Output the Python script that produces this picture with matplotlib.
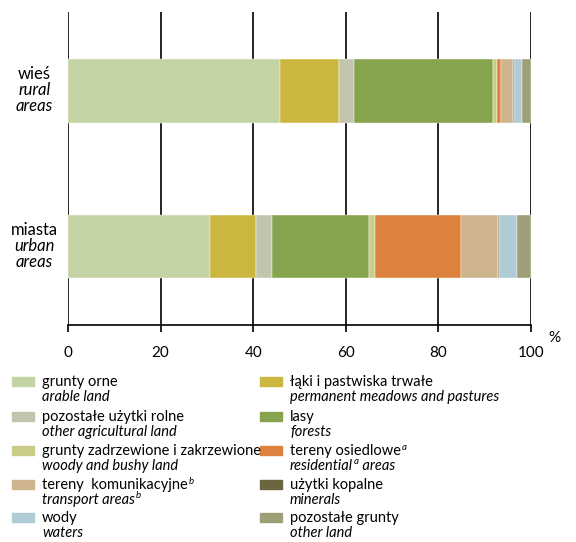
import matplotlib.pyplot as plt
from matplotlib.patches import Rectangle

plt.rcParams['font.family'] = ['Lato', 'DejaVu Sans']

# data (% of area)
areas_pl = ["wieś", "miasta"]
areas_en = ["rural\nareas", "urban\nareas"]
rural = [45.8, 12.7, 3.3, 30.0, 0.9, 0.8, 2.7, 0.1, 1.8, 1.9]
urban = [30.7, 9.8, 3.6, 20.9, 1.4, 18.5, 7.9, 0.2, 4.0, 3.0]
labels_pl = ["grunty orne", "łąki i pastwiska trwałe", "pozostałe użytki rolne", "lasy",
             "grunty zadrzewione i zakrzewione", "tereny osiedlowe",
             "tereny  komunikacyjne", "użytki kopalne", "wody", "pozostałe grunty"]
labels_en = ["arable land", "permanent meadows and pastures", "other agricultural land", "forests",
             "woody and bushy land", "residential", "transport areas",
             "minerals", "waters", "other land"]
# footnote marks: (polish mark, english mark, english text after mark)
notes = {5: ("a", "a", " areas"), 6: ("b", "b", "")}
colors = ["#c3d3a3", "#cbb63f", "#c3c4ae", "#86a34e", "#c9cc88", "#dd823e",
          "#cdb48c", "#6b6540", "#afcbd3", "#9e9f77"]
xticks = [0, 20, 40, 60, 80, 100]

W, H = 576, 542
fig = plt.figure(figsize=(W / 100, H / 100), dpi=100)
ax = fig.add_axes([68 / W, 1 - 325 / H, (531 - 68) / W, (325 - 12) / H])

ypos = [0, 1]
series = [rural, urban]
left = [0.0, 0.0]
for i in range(len(colors)):
    vals = [s[i] for s in series]
    ax.barh(ypos, vals, left=left, height=0.41, color=colors[i],
            edgecolor='white', linewidth=0.3, zorder=3)
    left = [l + v for l, v in zip(left, vals)]

ax.set_xlim(0, 100)
ax.set_ylim(1.505, -0.508)
ax.set_xticks(xticks)
ax.set_xticklabels([str(t) for t in xticks], fontsize=11)
ax.tick_params(axis='x', direction='out', length=5, width=1.2, pad=10, colors='black')
ax.set_yticks([])
for s in ['left', 'right', 'top']:
    ax.spines[s].set_visible(False)
ax.spines['bottom'].set_linewidth(1.2)
for t in xticks:
    ax.axvline(t, color='black', lw=1.2, zorder=1)
ax.text(1.05, -0.02, "%", transform=ax.transAxes, fontsize=11, ha='center', va='top')

for y, pl, en in zip(ypos, areas_pl, areas_en):
    ax.text(-7.2, y - 0.055, pl, ha='center', va='bottom', fontsize=12)
    ax.text(-7.2, y - 0.055, en, ha='center', va='top', fontsize=12, style='italic',
            linespacing=1.0)

# legend (two columns)
renderer = fig.canvas.get_renderer()


def right_edge(txt):
    return txt.get_window_extent(renderer).x1 / W


rows_y = [382, 417, 451, 485, 518]
for i in range(len(colors)):
    col, row = i % 2, i // 2
    px = 12 if col == 0 else 260
    py = rows_y[row]
    fig.add_artist(Rectangle((px / W, 1 - (py + 4) / H), 22 / W, 9 / H,
                             transform=fig.transFigure, color=colors[i]))
    t1 = fig.text((px + 30) / W, 1 - py / H, labels_pl[i], fontsize=10.5, va='center')
    t2 = fig.text((px + 30) / W, 1 - (py + 15) / H, labels_en[i], fontsize=10.5,
                  va='center', style='italic')
    if i in notes:
        m_pl, m_en, rest = notes[i]
        fig.text(right_edge(t1) + 1 / W, 1 - (py - 4) / H, m_pl, fontsize=7,
                 style='italic', va='center')
        s = fig.text(right_edge(t2) + 1 / W, 1 - (py + 11) / H, m_en, fontsize=7,
                     style='italic', va='center')
        if rest:
            fig.text(right_edge(s), 1 - (py + 15) / H, rest, fontsize=10.5,
                     style='italic', va='center')

fig.savefig("out.png", dpi=100)
